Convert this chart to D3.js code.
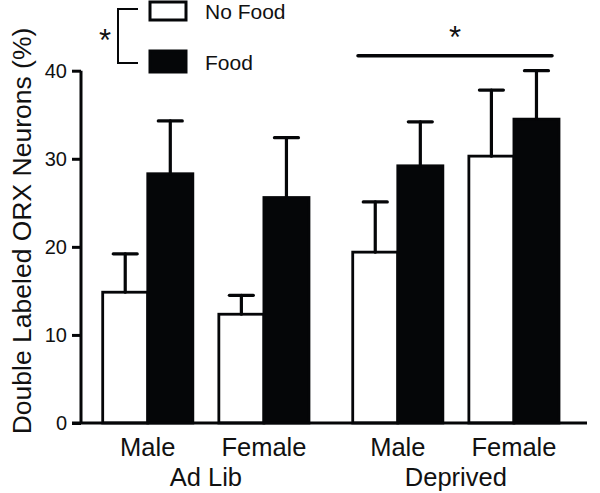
<!DOCTYPE html>
<html>
<head>
<meta charset="utf-8">
<script src="https://cdn.jsdelivr.net/npm/d3@7"></script>
<style>
  body { margin: 0; background: #fff; }
  text { font-family: "Liberation Sans", Arial, sans-serif; fill: #111; }
</style>
</head>
<body>
<div id="chart"></div>
<script>
// data
var groups = ["Ad Lib", "Deprived"];
var sexes = ["Male", "Female"];
var conditions = ["No Food", "Food"];
var noFoodMean = [14.85, 12.35, 19.4, 30.3];
var noFoodErr = [4.35, 2.15, 5.7, 7.5];
var foodMean = [28.3, 25.6, 29.2, 34.5];
var foodErr = [6.0, 6.8, 5.0, 5.5];
var yTicks = [0, 10, 20, 30, 40];

var width = 600, height = 493;

var svg = d3.select("#chart").append("svg")
  .attr("width", width)
  .attr("height", height);

// scales
var y = d3.scaleLinear().domain([0, 40]).range([423, 70.7]);

var xGroup = d3.scaleBand().domain(groups).range([102.7, 559]).paddingInner(0.175).paddingOuter(0);
var xSex = d3.scaleBand().domain(sexes).range([0, xGroup.bandwidth()]).paddingInner(0.224).paddingOuter(0);
var xCond = d3.scaleBand().domain(conditions).range([0, xSex.bandwidth()]).padding(0);

// flatten into rows
var rows = [];
groups.forEach(function(g, gi) {
  sexes.forEach(function(s, si) {
    var k = gi * 2 + si;
    rows.push({group: g, sex: s, cond: "No Food", mean: noFoodMean[k], err: noFoodErr[k]});
    rows.push({group: g, sex: s, cond: "Food", mean: foodMean[k], err: foodErr[k]});
  });
});

function barX(d) {
  return xGroup(d.group) + xSex(d.sex) + xCond(d.cond);
}

// bars
svg.selectAll("rect.bar")
  .data(rows)
  .enter()
  .append("rect")
  .attr("class", "bar")
  .attr("x", barX)
  .attr("y", function(d) { return y(d.mean); })
  .attr("width", xCond.bandwidth())
  .attr("height", function(d) { return y(0) - y(d.mean); })
  .style("fill", function(d) { return d.cond === "Food" ? "#050608" : "#fff"; })
  .style("stroke", "#050608")
  .style("stroke-width", 2.8);

// error bars (upper only)
var capW = 24;
var eb = svg.selectAll("g.err")
  .data(rows)
  .enter()
  .append("g")
  .attr("class", "err")
  .style("stroke", "#050608")
  .style("stroke-width", 3.2)
  .style("stroke-linecap", "round");

eb.append("line")
  .attr("x1", function(d) { return barX(d) + xCond.bandwidth() / 2; })
  .attr("x2", function(d) { return barX(d) + xCond.bandwidth() / 2; })
  .attr("y1", function(d) { return y(d.mean); })
  .attr("y2", function(d) { return y(d.mean + d.err); });

eb.append("line")
  .attr("x1", function(d) { return barX(d) + xCond.bandwidth() / 2 - capW / 2; })
  .attr("x2", function(d) { return barX(d) + xCond.bandwidth() / 2 + capW / 2; })
  .attr("y1", function(d) { return y(d.mean + d.err); })
  .attr("y2", function(d) { return y(d.mean + d.err); });

// y axis
var yAxis = d3.axisLeft(y).tickValues(yTicks).tickSize(9).tickPadding(5);
var gy = svg.append("g")
  .attr("transform", "translate(81,0)")
  .call(yAxis);
gy.select(".domain").attr("d", "M0," + y(40) + "V" + y(0)).style("stroke", "#050608").style("stroke-width", 3);
gy.selectAll(".tick line").style("stroke", "#050608").style("stroke-width", 3);
gy.selectAll(".tick text")
  .style("font-family", "Liberation Sans, Arial, sans-serif")
  .style("font-size", "20px")
  .attr("fill", "#111");

// x axis baseline
svg.append("line")
  .attr("x1", 72).attr("x2", 587)
  .attr("y1", y(0)).attr("y2", y(0))
  .style("stroke", "#050608")
  .style("stroke-width", 3);

// x labels
rows.filter(function(d) { return d.cond === "No Food"; }).forEach(function(d) {
  svg.append("text")
    .attr("x", xGroup(d.group) + xSex(d.sex) + xSex.bandwidth() / 2)
    .attr("y", 456)
    .attr("text-anchor", "middle")
    .style("font-size", "25.5px")
    .text(d.sex);
});
groups.forEach(function(g) {
  svg.append("text")
    .attr("x", xGroup(g) + xGroup.bandwidth() / 2)
    .attr("y", 486)
    .attr("text-anchor", "middle")
    .style("font-size", "25.5px")
    .text(g);
});

// y label
svg.append("text")
  .attr("transform", "translate(31," + ((22 + 440) / 2) + ") rotate(-90)")
  .attr("text-anchor", "middle")
  .style("font-size", "26.5px")
  .text("Double Labeled ORX Neurons (%)");

// legend
var legend = [
  {label: conditions[0], fill: "#fff", y: 2, h: 18, ty: 18.5},
  {label: conditions[1], fill: "#050608", y: 51, h: 21, ty: 70}
];
legend.forEach(function(l) {
  svg.append("rect")
    .attr("x", 150).attr("y", l.y)
    .attr("width", 36).attr("height", l.h)
    .style("fill", l.fill)
    .style("stroke", "#050608")
    .style("stroke-width", 3);
  svg.append("text")
    .attr("x", 205).attr("y", l.ty)
    .style("font-size", "21px")
    .text(l.label);
});

// bracket between legend entries
svg.append("path")
  .attr("d", "M138,9H118V63H138")
  .style("fill", "none")
  .style("stroke", "#050608")
  .style("stroke-width", 2);
svg.append("text")
  .attr("x", 105).attr("y", 51)
  .attr("text-anchor", "middle")
  .style("font-size", "31px")
  .text("*");

// significance bar over Deprived
svg.append("line")
  .attr("x1", 358).attr("x2", 552)
  .attr("y1", 55.7).attr("y2", 55.7)
  .style("stroke", "#050608")
  .style("stroke-width", 3.5)
  .style("stroke-linecap", "round");
svg.append("text")
  .attr("x", 455).attr("y", 48)
  .attr("text-anchor", "middle")
  .style("font-size", "31px")
  .text("*");
</script>
</body>
</html>
